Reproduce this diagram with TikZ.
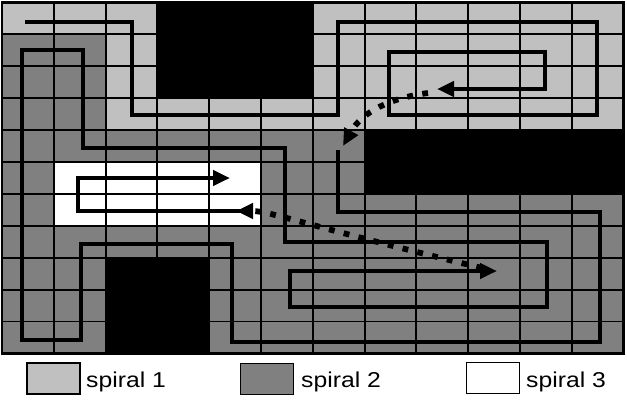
\documentclass[tikz,border=0pt]{standalone}
\usepackage{fontspec}
\setmainfont{Liberation Sans}
\usetikzlibrary{arrows.meta}
\definecolor{lg}{HTML}{C0C0C0}
\definecolor{dg}{HTML}{808080}
\newcommand\cellrect[5]{\fill[#1] ({2+51.8*#2},{2.5+31.9*#3}) rectangle ({2+51.8*#4},{2.5+31.9*#5});}
\begin{document}
\begin{tikzpicture}[x=1pt,y=-1pt,
  spiral/.style={line width=4.8pt, line join=miter},
  spiralend/.style={spiral, -{Triangle[length=17pt,width=15pt]}},
  dotline/.style={line width=5.8pt, dash pattern=on 5.8pt off 9.4pt, -{Triangle[length=17pt,width=15pt]}},
  gridline/.style={line width=1.9pt},
  legbox/.style={draw, line width=1.5pt, minimum width=53pt, minimum height=31pt, inner sep=0pt},
  legtext/.style={anchor=base west, inner sep=0pt, font=\fontsize{21.5}{24}\selectfont}]
\useasboundingbox (0,0) rectangle (627,402);
\fill[white] (0,0) rectangle (627,402);
% base fill
\cellrect{dg}{0}{0}{12}{11}
% spiral 1 region
\cellrect{lg}{0}{0}{3}{1}
\cellrect{lg}{2}{1}{3}{4}
\cellrect{lg}{3}{3}{6}{4}
\cellrect{lg}{6}{0}{12}{4}
% obstacles
\cellrect{black}{3}{0}{6}{3}
\cellrect{black}{7}{4}{12}{6}
\cellrect{black}{2}{8}{4}{11}
% spiral 3 region
\cellrect{white}{1}{5}{5}{7}
% grid
\foreach \i in {1,...,11} \draw[gridline] ({2+51.8*\i},2.5) -- ({2+51.8*\i},353.4);
\foreach \j in {1,...,10} \draw[gridline] (2,{2.5+31.9*\j}) -- (623.6,{2.5+31.9*\j});
\draw[line width=2.6pt] (2,2.5) rectangle (623.6,353.4);
% spiral 1
\draw[spiralend] (25,22) -- (132,22) -- (132,115) -- (338,115) -- (338,22) -- (597,22)
  -- (597,115) -- (389,115) -- (389,52) -- (545,52) -- (545,89) -- (437,89);
% connector 1 -> 2
\draw[dotline] (428,93) .. controls (390,98) and (362,112) .. (343,146);
% spiral 2
\draw[spiralend] (338,150) -- (338,212) -- (600,212) -- (600,342) -- (232,342) -- (232,244)
  -- (81,244) -- (81,340) -- (22,340) -- (22,50) -- (83,50) -- (83,148) -- (285,148)
  -- (285,242) -- (547,242) -- (547,307) -- (290,307) -- (290,271) -- (497,271);
% connector 2 -> 3
\draw[dotline] (482,268) .. controls (300,224) and (270,211) .. (236,211);
% spiral 3
\draw[spiralend] (248,211) -- (78,211) -- (78,178) -- (230,178);
% legend
\node[legbox, fill=lg] (b1) at (53.5,378.5) {};
\node[legbox, fill=dg] (b2) at (267,379) {};
\node[legbox, fill=white] (b3) at (493,378) {};
\node[legtext] (t1) at (86,387) {\scalebox{1.15}[1]{spiral 1}};
\node[legtext] (t2) at (301,387) {\scalebox{1.15}[1]{spiral 2}};
\node[legtext] (t3) at (526,387) {\scalebox{1.15}[1]{spiral 3}};
\end{tikzpicture}
\end{document}
